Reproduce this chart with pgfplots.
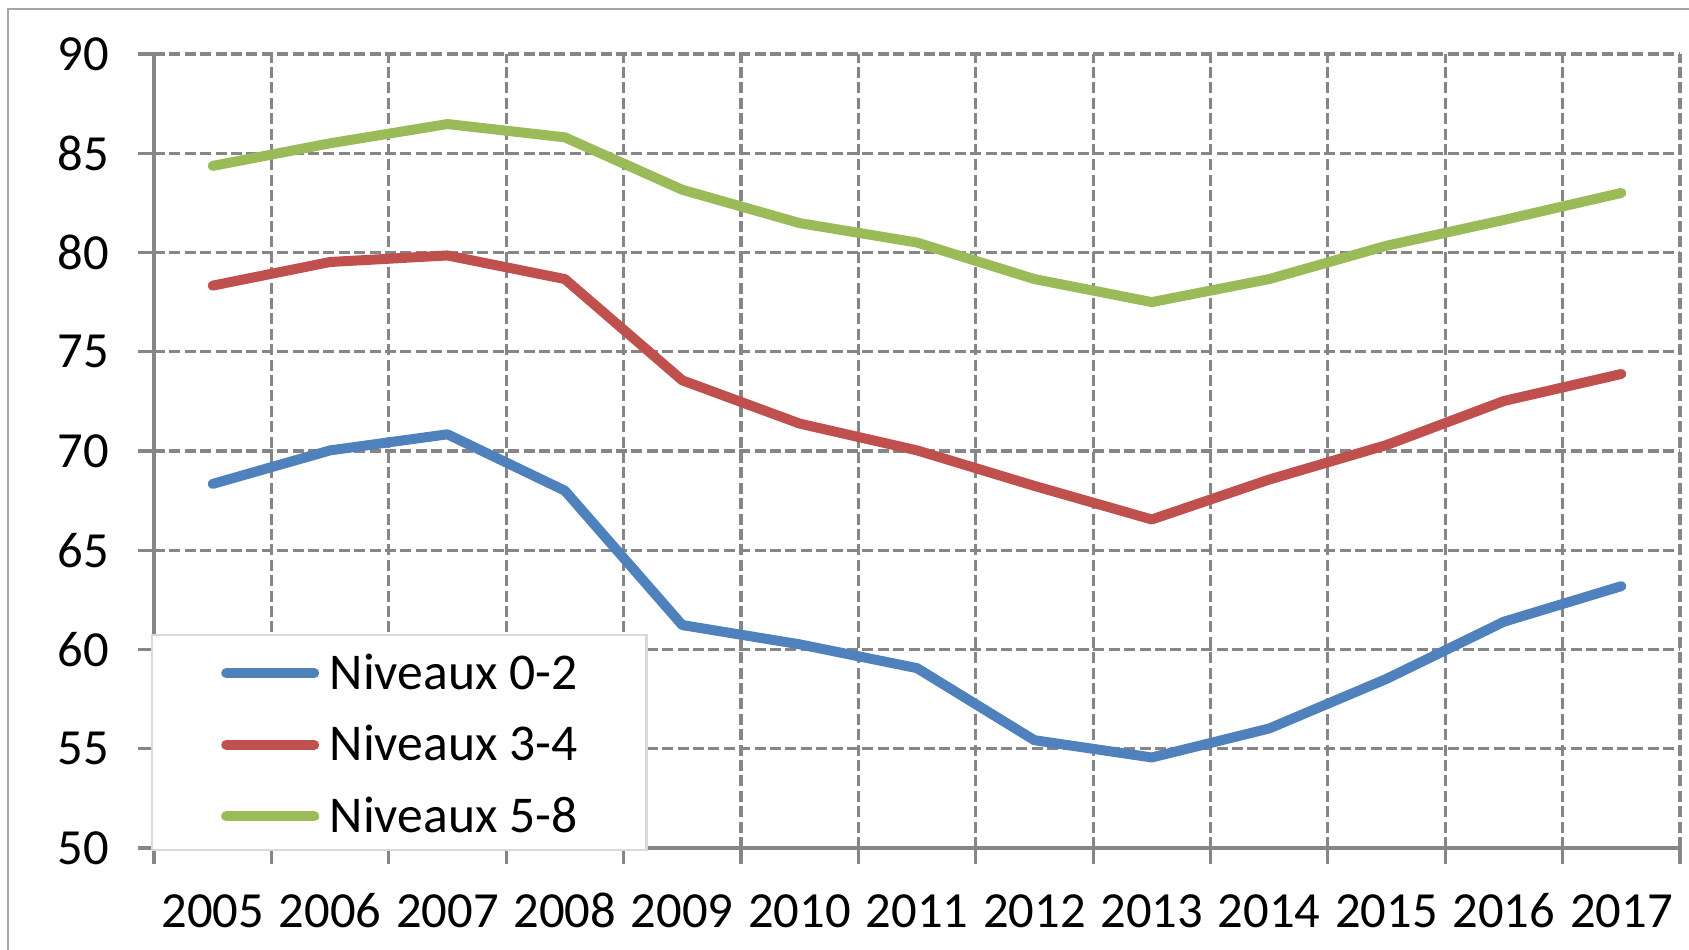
\documentclass[border=0pt]{standalone}
\usepackage{pgfplots}
\pgfplotsset{compat=1.18}
\usepackage{fontspec}
\setmainfont{Carlito}
\definecolor{cblue}{HTML}{4F81BD}
\definecolor{cred}{HTML}{C0504D}
\definecolor{cgreen}{HTML}{9BBB59}
\definecolor{cgrid}{HTML}{868686}
\definecolor{cframe}{HTML}{A6A6A6}
\definecolor{clegend}{HTML}{D9D9D9}
\begin{document}
\begin{tikzpicture}[x=1bp,y=1bp]
\useasboundingbox (0,0) rectangle (844.5,475);
\draw[cframe, line width=1.2bp] (4,-20) -- (4,470.5) -- (870,470.5);
\begin{axis}[
  at={(77bp,51bp)}, anchor=south west,
  scale only axis, width=763bp, height=397bp,
  xmin=-0.5, xmax=12.5, ymin=50, ymax=90,
  ytick={50,55,...,90},
  xtick={-0.5,0.5,...,12.5},
  x tick label as interval,
  xticklabels={2005,2006,2007,2008,2009,2010,2011,2012,2013,2014,2015,2016,2017},
  axis x line*=bottom, axis y line*=left,
  axis line style={cgrid, line width=1.6bp},
  tick align=outside, major tick length=8bp,
  tick style={cgrid, line width=1.6bp},
  grid=major,
  major grid style={cgrid, line width=1.6bp, dash pattern=on 5.5bp off 2.2bp},
  font=\fontsize{25.3bp}{30bp}\selectfont,
  /pgf/number format/assume math mode=true,
  yticklabel style={anchor=east, xshift=-11bp},
  xticklabel style={anchor=north, text height=16bp, text depth=0pt, yshift=-12bp},
  legend image code/.code={\path[draw=none, fill=none] (0bp,10.4bp) -- (0bp,0bp);\draw[line width=5bp, line cap=round] (0bp,0bp) -- (44bp,0bp);},
  legend cell align=left,
  legend style={at={(rel axis cs:0,0)}, anchor=south west, xshift=-1.5bp, yshift=-1.5bp,
    draw=clegend, line width=1.2bp, fill=white,
    inner xsep=34.5bp, inner ysep=8.7bp, row sep=17.4bp, column sep=5.3bp,
    nodes={inner sep=0pt, text height=16bp, text depth=0pt},
    font=\fontsize{25.8bp}{30bp}\selectfont},
]
\addplot[cblue, line width=5bp, line join=round, line cap=round] coordinates {
(0,68.34) (1,70.03) (2,70.84) (3,68.0) (4,61.23) (5,60.26) (6,59.06) (7,55.43) (8,54.56) (9,56.02) (10,58.52) (11,61.4) (12,63.19)};
\addlegendentry{Niveaux 0-2}
\addplot[cred, line width=5bp, line join=round, line cap=round] coordinates {
(0,78.33) (1,79.52) (2,79.85) (3,78.66) (4,73.56) (5,71.38) (6,70.03) (7,68.24) (8,66.55) (9,68.56) (10,70.3) (11,72.52) (12,73.88)};
\addlegendentry{Niveaux 3-4}
\addplot[cgreen, line width=5bp, line join=round, line cap=round] coordinates {
(0,84.36) (1,85.5) (2,86.47) (3,85.8) (4,83.16) (5,81.48) (6,80.5) (7,78.66) (8,77.5) (9,78.66) (10,80.34) (11,81.64) (12,83.0)};
\addlegendentry{Niveaux 5-8}
\end{axis}
\end{tikzpicture}
\end{document}
